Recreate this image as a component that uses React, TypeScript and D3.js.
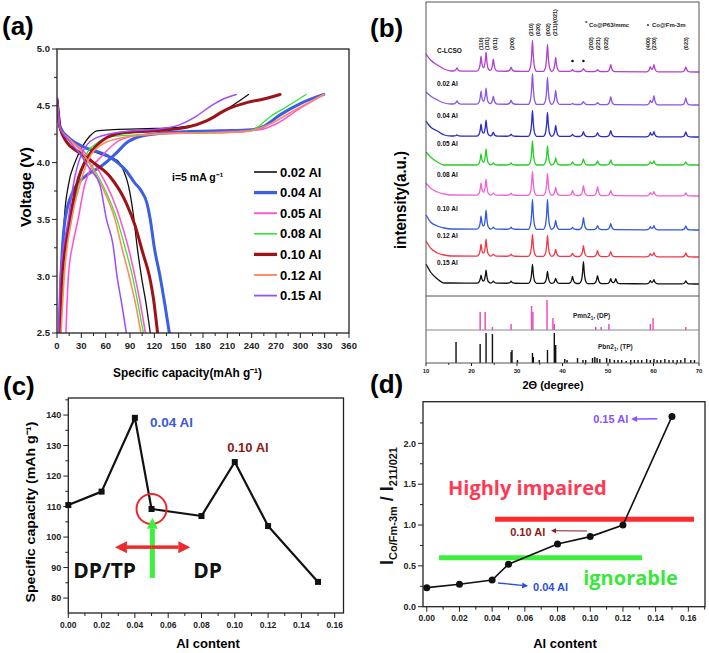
import * as d3 from 'd3';

type Pt = [number, number];

const W = 709;
const H = 653;
const font = '"Liberation Sans", Arial, sans-serif';
const openFont = '"Open Sans", "Liberation Sans", sans-serif';
const ink = '#222';

// ---------- (a) charge / discharge curves ----------
const aLabels = ['0.02 Al', '0.04 Al', '0.05 Al', '0.08 Al', '0.10 Al', '0.12 Al', '0.15 Al'];
const aColors = ['#111111', '#3b5fe2', '#ff55d4', '#2ee82e', '#9e1218', '#ff8866', '#9b4dff'];
const aWidths = [1.3, 3, 1.6, 1.3, 3, 1.6, 1.5];
const aXTicks = [0, 30, 60, 90, 120, 150, 180, 210, 240, 270, 300, 330, 360];
const aYTicks = [2.5, 3.0, 3.5, 4.0, 4.5, 5.0];

const aCharge: Pt[][] = [
  [[5, 2.5], [6, 3.0], [9, 3.5], [14, 3.8], [22, 4.0], [32, 4.15], [40, 4.23], [49, 4.28], [70, 4.29], [120, 4.3], [150, 4.31], [175, 4.34], [200, 4.43], [220, 4.52], [236, 4.6]],
  [[3, 2.5], [5, 3.0], [10, 3.5], [20, 3.75], [35, 3.88], [53, 3.96], [74, 4.09], [85, 4.17], [102, 4.23], [130, 4.26], [200, 4.28], [240, 4.29], [255, 4.32], [275, 4.42], [300, 4.52], [329, 4.6]],
  [[11, 2.5], [14, 3.0], [20, 3.3], [26, 3.5], [34, 3.8], [42, 3.95], [53, 4.04], [78, 4.2], [110, 4.25], [200, 4.27], [250, 4.29], [270, 4.34], [300, 4.48], [329, 4.6]],
  [[4, 2.5], [8, 3.0], [18, 3.5], [26, 3.8], [36, 4.07], [49, 4.17], [69, 4.23], [120, 4.25], [230, 4.27], [245, 4.3], [262, 4.4], [285, 4.5], [307, 4.6]],
  [[3, 2.5], [6, 3.0], [16, 3.5], [24, 3.8], [40, 4.07], [57, 4.2], [80, 4.26], [120, 4.28], [160, 4.31], [185, 4.37], [210, 4.47], [235, 4.53], [255, 4.56], [275, 4.6]],
  [[5, 2.5], [9, 3.0], [18, 3.5], [28, 3.8], [45, 4.1], [74, 4.21], [120, 4.25], [230, 4.27], [260, 4.33], [290, 4.45], [329, 4.6]],
  [[2, 2.5], [4, 3.0], [14, 3.5], [20, 3.8], [32, 4.1], [49, 4.22], [80, 4.27], [130, 4.3], [150, 4.33], [170, 4.4], [190, 4.5], [205, 4.56], [221, 4.6]],
];

const aDischarge: Pt[][] = [
  [[0, 4.56], [4, 4.31], [16, 4.21], [32, 4.14], [55, 4.07], [74, 4.02], [82, 3.93], [88, 3.8], [94, 3.55], [99, 3.25], [104, 3.0], [110, 2.75], [115, 2.5]],
  [[0, 4.56], [4, 4.31], [16, 4.21], [32, 4.14], [65, 4.05], [85, 3.93], [96, 3.82], [104, 3.75], [111, 3.64], [115, 3.5], [120, 3.25], [127, 3.0], [133, 2.75], [138.5, 2.5]],
  [[0, 4.55], [4, 4.3], [16, 4.2], [30, 4.12], [45, 4.0], [60, 3.82], [69, 3.68], [78, 3.5], [88, 3.25], [96, 3.0], [103, 2.75], [109, 2.5]],
  [[0, 4.55], [4, 4.3], [16, 4.2], [30, 4.1], [45, 3.95], [60, 3.75], [74, 3.5], [84, 3.25], [93, 3.0], [100, 2.75], [106.5, 2.5]],
  [[0, 4.55], [4, 4.3], [12, 4.18], [25, 4.1], [45, 4.0], [65, 3.88], [85, 3.65], [96, 3.45], [106, 3.2], [114, 3.0], [119, 2.8], [124, 2.5]],
  [[0, 4.55], [4, 4.3], [16, 4.2], [30, 4.1], [45, 3.93], [60, 3.72], [71.5, 3.5], [80, 3.25], [89, 3.0], [97, 2.75], [103.5, 2.5]],
  [[0, 4.55], [4, 4.3], [14, 4.2], [28, 4.08], [40, 3.95], [53, 3.8], [61, 3.5], [69, 3.28], [74, 3.0], [80, 2.75], [85.5, 2.5]],
];

// ---------- (b) XRD ----------
const bSamples = ['C-LCSO', '0.02 Al', '0.04 Al', '0.05 Al', '0.08 Al', '0.10 Al', '0.12 Al', '0.15 Al'];
const bColors = ['#b23fcf', '#8a55e8', '#2a2ac8', '#22d022', '#f062d2', '#3358e0', '#f23848', '#111111'];
const bOffsets = [224, 191, 159, 131, 100, 66, 39, 12];
const bBgTheta = [10, 11, 12.5, 14, 15.5, 70];
const bBg = [
  [18, 12, 7, 3, 1, 0],
  [13, 9, 5, 2, 1, 0],
  [16, 10, 6, 2, 1, 0],
  [13, 8, 3, 0, 0, 0],
  [13, 8, 4, 2, 1, 0],
  [15, 8, 4, 2, 1, 0],
  [16, 9, 4, 2, 1, 0],
  [20, 12, 5, 1, 1, 0],
];
const bPeakTheta = [16.8, 22.1, 23.2, 24.8, 28.7, 33.4, 36.7, 38.5, 42.2, 44.6, 47.7, 50.6, 51.7, 59.3, 60.1, 67.1];
const bPeakHeights = [
  [3, 15, 19, 12, 4, 31, 27, 14, 2, 3, 2, 7, 0, 5, 7, 5],
  [3, 13, 16, 8, 4, 31, 27, 14, 1, 3, 2, 8, 0, 4, 9, 7],
  [1, 12, 16, 4, 2, 26, 24, 11, 2, 5, 4, 6, 0, 4, 5, 5],
  [0, 11, 16, 2, 2, 24, 19, 7, 3, 6, 4, 5, 0, 3, 4, 3],
  [0, 12, 16, 2, 2, 24, 22, 8, 5, 10, 9, 5, 0, 3, 4, 3],
  [0, 13, 19, 2, 2, 30, 30, 9, 2, 12, 4, 6, 0, 3, 4, 4],
  [0, 12, 17, 2, 2, 22, 21, 7, 3, 11, 6, 5, 0, 3, 4, 4],
  [0, 8, 13, 2, 2, 19, 12, 5, 7, 22, 8, 5, 5, 3, 4, 3],
];
// peak profile: offsets in degrees and fraction of height
const bProfileOff = [-0.9, -0.45, -0.18, 0, 0.18, 0.45, 0.9];
const bProfileFrac = [0, 0.14, 0.52, 1, 0.52, 0.14, 0];
const bHkl = ['(110)', '(101)', '(011)', '(200)', '(210)', '(020)', '(002)', '(211)/(021)', '(202)', '(221)', '(022)', '(400)', '(230)', '(023)'];
const bHklTheta = [22.1, 23.5, 25.2, 28.9, 33.1, 34.7, 36.8, 38.4, 46.2, 47.8, 49.6, 58.7, 60.1, 67.1];
const bHklLift = [0, 0, 0, 0, 1, 1, 1, 1, 0, 0, 0, 0, 0, 0];
const bStarTheta = [42.2, 44.6];
const bDpTheta = [21.9, 23.0, 24.6, 28.7, 33.2, 33.5, 36.6, 37.9, 38.2, 47.3, 48.5, 50.2, 59.3, 59.9, 67.1];
const bDpHeight = [18, 18, 3, 6, 24, 18, 30, 12, 6, 3, 3, 6, 6, 12, 3];
const bTpTheta = [16.6, 21.9, 23.2, 24.6, 28.7, 28.9, 30.1, 33.4, 33.6, 34.9, 36.7, 38.2, 38.5, 40.5, 41.0, 43.3, 44.5, 45.1, 46.6, 47.1, 47.6, 48.2, 49.7, 50.4, 51.4, 52.2, 53.0, 54.0, 55.0, 55.8, 56.6, 57.4, 58.5, 59.3, 60.1, 60.8, 61.6, 62.5, 63.4, 64.3, 65.2, 66.0, 66.9, 68.2, 69.0];
const bTpHeight = [21, 19, 30, 29, 11, 13, 3, 10, 6, 3, 13, 30, 18, 4, 3, 5, 3, 3, 5, 6, 5, 4, 5, 4, 3, 3, 3, 2, 3, 3, 3, 3, 4, 3, 4, 3, 3, 4, 3, 3, 3, 3, 5, 3, 3];
const bXTicks = [10, 20, 30, 40, 50, 60, 70];

// ---------- (c) capacity vs Al ----------
const alContent = [0, 0.02, 0.04, 0.05, 0.08, 0.1, 0.12, 0.15];
const capacity = [110.5, 114.9, 139.1, 109.2, 106.9, 124.6, 103.6, 85.3];
const cYTicks = [80, 90, 100, 110, 120, 130, 140];
const alTicks = [0, 0.02, 0.04, 0.06, 0.08, 0.1, 0.12, 0.14, 0.16];

// ---------- (d) intensity ratio vs Al ----------
const ratio = [0.233, 0.274, 0.327, 0.52, 0.768, 0.858, 1.0, 2.33];
const dYTicks = [0, 0.5, 1.0, 1.5, 2.0];

const f1 = d3.format('.1f');
const f2 = d3.format('.2f');
const fd = d3.format('d');

const minorBetween = (ticks: number[], lo: number, hi: number) => {
  const step = ticks[1] - ticks[0];
  const out: number[] = [];
  for (let v = ticks[0] - step / 2; v <= hi + 1e-9; v += step) {
    if (v >= lo - 1e-9) out.push(v);
  }
  return out;
};

// piecewise-linear lookup of a broken line given by xs/ys
const piece = (xs: number[], ys: number[], t: number) => {
  if (t <= xs[0] || t >= xs[xs.length - 1]) return 0;
  const k = d3.bisectRight(xs, t) - 1;
  const f = (t - xs[k]) / (xs[k + 1] - xs[k]);
  return ys[k] + (ys[k + 1] - ys[k]) * f;
};

const LeftAxis = ({ scale, x, ticks, minor, fmt, fs }: any) => (
  <g>
    {minor.map((v: number) => (
      <line key={'m' + v} x1={x} x2={x - 3} y1={scale(v)} y2={scale(v)} stroke={ink} />
    ))}
    {ticks.map((v: number) => (
      <g key={v}>
        <line x1={x} x2={x - 5} y1={scale(v)} y2={scale(v)} stroke={ink} />
        <text x={x - 7} y={scale(v)} dy="0.35em" textAnchor="end" fontSize={fs} fontWeight="bold" fill={ink}>
          {fmt(v)}
        </text>
      </g>
    ))}
  </g>
);

const BottomAxis = ({ scale, y, ticks, minor, fmt, fs, len = 5 }: any) => (
  <g>
    {minor.map((v: number) => (
      <line key={'m' + v} y1={y} y2={y + len * 0.6} x1={scale(v)} x2={scale(v)} stroke={ink} />
    ))}
    {ticks.map((v: number) => (
      <g key={v}>
        <line y1={y} y2={y + len} x1={scale(v)} x2={scale(v)} stroke={ink} />
        <text x={scale(v)} y={y + len + fs + 1} textAnchor="middle" fontSize={fs} fontWeight="bold" fill={ink}>
          {fmt(v)}
        </text>
      </g>
    ))}
  </g>
);

const Frame = ({ x0, x1, y0, y1 }: any) => (
  <rect x={x0} y={y0} width={x1 - x0} height={y1 - y0} fill="none" stroke={ink} strokeWidth={1.3} />
);

const PanelA = () => {
  const x = d3.scaleLinear().domain([0, 360]).range([57, 349]);
  const y = d3.scaleLinear().domain([2.5, 5]).range([333, 49]);
  const line = d3.line<Pt>().x(d => x(d[0])).y(d => y(d[1])).curve(d3.curveMonotoneX);
  return (
    <g>
      <text x={2} y={35} fontSize={26} fontWeight="bold">(a)</text>
      <clipPath id="clipA">
        <rect x={57} y={49} width={292} height={284} />
      </clipPath>
      <g clipPath="url(#clipA)" fill="none" strokeLinejoin="round" strokeLinecap="round">
        {aLabels.map((l, i) => (
          <g key={l} stroke={aColors[i]} strokeWidth={aWidths[i]}>
            <path d={line(aDischarge[i]) || ''} />
            <path d={line(aCharge[i]) || ''} />
          </g>
        ))}
      </g>
      <Frame x0={57} x1={349} y0={49} y1={333} />
      <LeftAxis scale={y} x={57} ticks={aYTicks} minor={minorBetween(aYTicks, 2.5, 5)} fmt={f1} fs={9.5} />
      <BottomAxis scale={x} y={333} ticks={aXTicks} minor={minorBetween(aXTicks, 0, 360)} fmt={fd} fs={9.5} />
      <text x={187.5} y={377} textAnchor="middle" fontSize={12.5} fontWeight="bold" textLength={149} lengthAdjust="spacingAndGlyphs">
        Specific capacity(mAh g⁻¹)
      </text>
      <text transform="translate(31,187) rotate(-90)" textAnchor="middle" fontSize={14} fontWeight="bold" textLength={80} lengthAdjust="spacingAndGlyphs">
        Voltage (V)
      </text>
      <text x={172} y={181} fontSize={10.5} fontWeight="bold">i=5 mA g⁻¹</text>
      {aLabels.map((l, i) => {
        const cy = 172 + i * 20.6;
        return (
          <g key={l}>
            <line x1={254} x2={277} y1={cy} y2={cy} stroke={aColors[i]} strokeWidth={aWidths[i] + 0.3} />
            <text x={280} y={cy + 4.5} fontSize={13} fontWeight="bold">{l}</text>
          </g>
        );
      })}
    </g>
  );
};

const PanelB = () => {
  const x = d3.scaleLinear().domain([10, 70]).range([426, 699]);
  const y = d3.scaleLinear().domain([0, 294]).range([296, 2]);
  const yDp = d3.scaleLinear().domain([0, 34]).range([330, 296]);
  const yTp = d3.scaleLinear().domain([0, 33]).range([363, 330]);
  const line = d3.line<Pt>().x(d => x(d[0])).y(d => d[1]).curve(d3.curveMonotoneX);
  const traces = bSamples.map((s, i) => {
    const used = bPeakTheta.filter((p, k) => bPeakHeights[i][k] > 0);
    const ts = new Set<number>(bBgTheta);
    used.forEach(p => bProfileOff.forEach(o => ts.add(+(p + o).toFixed(3))));
    const sorted = Array.from(ts).filter(t => t >= 10 && t <= 70).sort((a, b) => a - b);
    return sorted.map(t => {
      let v = piece(bBgTheta, bBg[i], t);
      if (t === 10) v = bBg[i][0];
      bPeakTheta.forEach((p, k) => {
        const h = bPeakHeights[i][k];
        if (h) v += h * piece(bProfileOff, bProfileFrac, t - p);
      });
      return [t, y(bOffsets[i] + v)] as Pt;
    });
  });
  return (
    <g>
      <text x={370} y={37} fontSize={26} fontWeight="bold">(b)</text>
      <text transform="translate(406,200) rotate(-90)" textAnchor="middle" fontSize={16} fontWeight="bold" textLength={98} lengthAdjust="spacingAndGlyphs">
        intensity(a.u.)
      </text>
      <g fill="none" strokeWidth={1.3} strokeLinejoin="round">
        {traces.map((t, i) => (
          <path key={bSamples[i]} d={line(t) || ''} stroke={bColors[i]} />
        ))}
      </g>
      {bSamples.map((s, i) => (
        <text key={s} x={437} y={y(bOffsets[i] + 19)} fontSize={6.5} fontWeight="bold" fill="#111">{s}</text>
      ))}
      {bHkl.map((h, i) => (
        <text key={h} transform={`translate(${x(bHklTheta[i]) + 2},${y(bOffsets[0] + 22 + bHklLift[i] * 14)}) rotate(-90)`} fontSize={5.5} fontWeight="bold" fill="#222">
          {h}
        </text>
      ))}
      {bStarTheta.map(t => (
        <circle key={t} cx={x(t)} cy={y(bOffsets[0] + 11)} r={1.3} fill="#111" />
      ))}
      <text x={585} y={27} fontSize={6} fontWeight="bold" fill="#222">
        <tspan dy={-2}>*</tspan><tspan dy={2}> Co@P63/mmc</tspan>
      </text>
      <circle cx={648} cy={25} r={0.9} fill="#222" />
      <text x={652} y={27} fontSize={6} fontWeight="bold" fill="#222">Co@Fm-3m</text>
      {bDpTheta.map((t, i) => (
        <rect key={'dp' + i} x={x(t) - 0.7} width={1.4} y={yDp(bDpHeight[i])} height={yDp(0) - yDp(bDpHeight[i])} fill="#f043b6" />
      ))}
      <text x={573} y={318} fontSize={6.5} fontWeight="bold" fill="#222">
        Pmn2<tspan fontSize={4.5} dy={1.5}>1</tspan><tspan dy={-1.5}>, (DP)</tspan>
      </text>
      {bTpTheta.map((t, i) => (
        <rect key={'tp' + i} x={x(t) - 0.7} width={1.4} y={yTp(bTpHeight[i])} height={yTp(0) - yTp(bTpHeight[i])} fill="#111" />
      ))}
      <text x={598} y={349} fontSize={6.5} fontWeight="bold" fill="#222">
        Pbn2<tspan fontSize={4.5} dy={1.5}>1</tspan><tspan dy={-1.5}>, (TP)</tspan>
      </text>
      <rect x={426} y={2} width={273} height={361} fill="none" stroke="#555" strokeWidth={1} />
      <line x1={426} x2={699} y1={296} y2={296} stroke="#555" />
      <line x1={426} x2={699} y1={330} y2={330} stroke="#888" />
      <BottomAxis scale={x} y={363} ticks={bXTicks} minor={minorBetween(bXTicks, 10, 70)} fmt={fd} fs={6} len={3} />
      <text x={553} y={389} textAnchor="middle" fontSize={11} fontWeight="bold">2Θ (degree)</text>
    </g>
  );
};

const Arrow = ({ x1, y1, x2, y2, color, w, head }: any) => {
  const a = Math.atan2(y2 - y1, x2 - x1);
  const bx = x2 - head * Math.cos(a);
  const by = y2 - head * Math.sin(a);
  const px = Math.sin(a) * head * 0.5;
  const py = -Math.cos(a) * head * 0.5;
  return (
    <g>
      <line x1={x1} y1={y1} x2={bx} y2={by} stroke={color} strokeWidth={w} />
      <polygon points={`${x2},${y2} ${bx + px},${by + py} ${bx - px},${by - py}`} fill={color} />
    </g>
  );
};

const PanelC = () => {
  const x = d3.scaleLinear().domain([0, 0.1653]).range([68.3, 343.5]);
  const y = d3.scaleLinear().domain([75.1, 145.6]).range([613, 398]);
  const line = d3.line<number>().x((d, i) => x(alContent[i])).y(d => y(d));
  const midX = x(0.0505);
  return (
    <g>
      <text x={3} y={395} fontSize={26} fontWeight="bold">(c)</text>
      <Frame x0={68.3} x1={343.5} y0={398} y1={613} />
      <LeftAxis scale={y} x={68.3} ticks={cYTicks} minor={minorBetween(cYTicks, 75.1, 145.6)} fmt={fd} fs={9} />
      <BottomAxis scale={x} y={613} ticks={alTicks} minor={minorBetween(alTicks, 0, 0.1653)} fmt={f2} fs={8.5} />
      <path d={line(capacity) || ''} fill="none" stroke="#111" strokeWidth={2.2} strokeLinejoin="round" />
      {capacity.map((c, i) => (
        <rect key={i} x={x(alContent[i]) - 3} y={y(c) - 3} width={6} height={6} fill="#111" />
      ))}
      <circle cx={x(0.05)} cy={y(109.2)} r={15} fill="none" stroke="#e8262e" strokeWidth={2} />
      <Arrow x1={midX} y1={y(86.6)} x2={midX} y2={y(106.3)} color="#3cf03c" w={5} head={11} />
      <Arrow x1={x(0.05)} y1={y(96.7)} x2={x(0.028)} y2={y(96.7)} color="#ee2a2a" w={3.5} head={12} />
      <Arrow x1={x(0.05)} y1={y(96.7)} x2={x(0.0733)} y2={y(96.7)} color="#ee2a2a" w={3.5} head={12} />
      <text x={x(0.003)} y={y(86.6)} fontFamily={openFont} fontSize={21} fontWeight="bold" fill="#111">DP/TP</text>
      <text x={x(0.075)} y={y(86.6)} fontFamily={openFont} fontSize={21} fontWeight="bold" fill="#111">DP</text>
      <text x={x(0.049)} y={y(136.1)} fontSize={13.5} fontWeight="bold" fill="#3a5ad8">0.04 Al</text>
      <text x={x(0.0955)} y={y(127.9)} fontSize={13} fontWeight="bold" fill="#8b1a1a">0.10 Al</text>
      <text transform="translate(35,512) rotate(-90)" textAnchor="middle" fontSize={13} fontWeight="bold" textLength={181} lengthAdjust="spacingAndGlyphs">
        Specific capacity (mAh g⁻¹)
      </text>
      <text x={208} y={648} textAnchor="middle" fontSize={13} fontWeight="bold">Al content</text>
    </g>
  );
};

const PanelD = () => {
  const x = d3.scaleLinear().domain([-0.0023, 0.1702]).range([423, 705]);
  const y = d3.scaleLinear().domain([0, 2.51]).range([606.7, 401.7]);
  const line = d3.line<number>().x((d, i) => x(alContent[i])).y(d => y(d));
  return (
    <g>
      <text x={370} y={393} fontSize={26} fontWeight="bold">(d)</text>
      <Frame x0={423} x1={705} y0={401.7} y1={606.7} />
      <LeftAxis scale={y} x={423} ticks={dYTicks} minor={minorBetween(dYTicks, 0, 2.51)} fmt={f1} fs={9} />
      <BottomAxis scale={x} y={606.7} ticks={alTicks} minor={minorBetween(alTicks, 0, 0.1702)} fmt={f2} fs={8.5} />
      <text x={x(0.013)} y={y(1.367)} fontFamily={openFont} fontSize={20} fontWeight="bold" fill="#ff3a55">Highly impaired</text>
      <text x={x(0.0957)} y={y(0.266)} fontFamily={openFont} fontSize={20} fontWeight="bold" fill="#3ae83a">ignorable</text>
      <line x1={x(0.0418)} x2={x(0.1635)} y1={y(1.07)} y2={y(1.07)} stroke="#ff2a2a" strokeWidth={5} />
      <line x1={x(0.0075)} x2={x(0.1317)} y1={y(0.6)} y2={y(0.6)} stroke="#3cf03c" strokeWidth={5} />
      <path d={line(ratio) || ''} fill="none" stroke="#111" strokeWidth={1.6} />
      {ratio.map((r, i) => (
        <circle key={i} cx={x(alContent[i])} cy={y(r)} r={3.5} fill="#111" />
      ))}
      <Arrow x1={x(0.141)} y1={y(2.3)} x2={x(0.125)} y2={y(2.297)} color="#8a4fff" w={1.5} head={6} />
      <text x={x(0.1018)} y={y(2.25)} fontSize={11} fontWeight="bold" fill="#8a4fff">0.15 Al</text>
      <Arrow x1={x(0.098)} y1={y(0.927)} x2={x(0.076)} y2={y(0.93)} color="#8b1a1a" w={1} head={5} />
      <text x={x(0.051)} y={y(0.865)} fontSize={11} fontWeight="bold" fill="#8b1a1a">0.10 Al</text>
      <Arrow x1={x(0.0436)} y1={y(0.29)} x2={x(0.062)} y2={y(0.253)} color="#2a4ee0" w={1.3} head={6} />
      <text x={x(0.065)} y={y(0.192)} fontSize={11} fontWeight="bold" fill="#2a4ee0">0.04 Al</text>
      <text transform="translate(393,506) rotate(-90)" textAnchor="middle" fontWeight="bold" fill="#111">
        <tspan fontSize={18}>I</tspan>
        <tspan fontSize={11} dy={4}>Co/Fm-3m</tspan>
        <tspan fontSize={18} dy={-4}> / I</tspan>
        <tspan fontSize={11} dy={4}>211/021</tspan>
      </text>
      <text x={565} y={648} textAnchor="middle" fontSize={13} fontWeight="bold">Al content</text>
    </g>
  );
};

export default function App() {
  return (
    <svg
      width={W}
      height={H}
      viewBox={`0 0 ${W} ${H}`}
      style={{ position: 'absolute', left: 0, top: 0, background: '#fff' }}
      fontFamily={font}
    >
      <rect width={W} height={H} fill="#fff" />
      <PanelA />
      <PanelB />
      <PanelC />
      <PanelD />
    </svg>
  );
}
